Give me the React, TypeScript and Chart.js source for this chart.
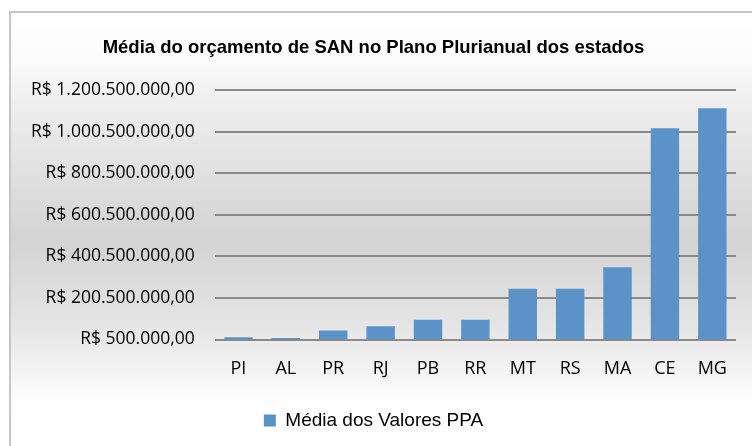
import React, { useEffect, useRef } from "react";
import { Chart, registerables } from "chart.js";

Chart.register(...registerables);

const categories = ["PI", "AL", "PR", "RJ", "PB", "RR", "MT", "RS", "MA", "CE", "MG"];
const seriesLabel = "Média dos Valores PPA";
const seriesValues = [
  11000000, 8000000, 44000000, 64000000, 96000000, 96000000,
  245000000, 245000000, 348000000, 1016000000, 1113000000,
];
const yMin = 500000;
const yMax = 1200500000;
const yStep = 200000000;
const titleText = "Média do orçamento de SAN no Plano Plurianual dos estados";

function brl(v: number): string {
  const n = Math.round(v);
  const s = n.toString().replace(/\B(?=(\d{3})+(?!\d))/g, ".");
  return "R$ " + s + ",00";
}

const backgroundPlugin = {
  id: "bgPanel",
  beforeDraw(chart: any) {
    const { ctx, width, height } = chart;
    ctx.save();
    const g = ctx.createLinearGradient(0, 11, 0, height);
    g.addColorStop(0, "#ffffff");
    g.addColorStop(0.113, "#fbfbfb");
    g.addColorStop(0.205, "#efefef");
    g.addColorStop(0.526, "#d3d3d3");
    g.addColorStop(0.733, "#e6e6e6");
    g.addColorStop(0.883, "#fcfcfc");
    g.addColorStop(0.917, "#ffffff");
    g.addColorStop(1, "#ffffff");
    ctx.fillStyle = "#ffffff";
    ctx.fillRect(0, 0, width, height);
    ctx.fillStyle = g;
    ctx.fillRect(10, 12, width - 10, height - 12);
    ctx.strokeStyle = "#c6c6c6";
    ctx.lineWidth = 2;
    ctx.beginPath();
    ctx.moveTo(10, height + 5);
    ctx.lineTo(10, 12);
    ctx.lineTo(width + 5, 12);
    ctx.stroke();
    ctx.restore();
  },
};

export default function App() {
  const ref = useRef<HTMLCanvasElement | null>(null);
  useEffect(() => {
    if (!ref.current) return;
    const chart = new Chart(ref.current, {
      type: "bar",
      data: {
        labels: categories,
        datasets: [
          {
            label: seriesLabel,
            data: seriesValues,
            backgroundColor: "#5b92c7",
            borderWidth: 0,
            categoryPercentage: 0.6,
            barPercentage: 1,
          },
        ],
      },
      options: {
        responsive: false,
        animation: false,
        layout: { padding: { top: 36.9, left: 11, right: 16, bottom: 6 } },
        plugins: {
          title: {
            display: true,
            text: titleText,
            color: "#000000",
            font: { family: "'Liberation Sans', Arial, sans-serif", size: 18.5, weight: "bold" },
            padding: { top: 0, bottom: 30.9 },
          },
          legend: {
            position: "bottom",
            labels: {
              color: "#000000",
              font: { family: "'Liberation Sans', Arial, sans-serif", size: 19 },
              boxWidth: 12,
              boxHeight: 12,
              padding: 10,
            },
          },
          tooltip: { enabled: false },
        },
        scales: {
          x: {
            grid: { display: false, drawTicks: false },
            border: { display: false },
            ticks: {
              color: "#000000",
              font: { family: "'Open Sans', sans-serif", size: 18 },
              padding: 19,
            },
            afterFit: (scale: any) => {
              scale.height = 61.5;
            },
          },
          y: {
            min: yMin,
            max: yMax,
            grid: { color: "#8a8a8a", lineWidth: 2, drawTicks: false },
            border: { display: false },
            ticks: {
              stepSize: yStep,
              color: "#000000",
              font: { family: "'Open Sans', sans-serif", size: 17.5 },
              padding: 20,
              callback: (v: any) => brl(Number(v)),
            },
          },
        },
      },
      plugins: [backgroundPlugin],
    });
    return () => chart.destroy();
  }, []);
  return (
    <div style={{ position: "fixed", left: 0, top: 0, width: 752, height: 446 }}>
      <canvas ref={ref} width={752} height={446} />
    </div>
  );
}
